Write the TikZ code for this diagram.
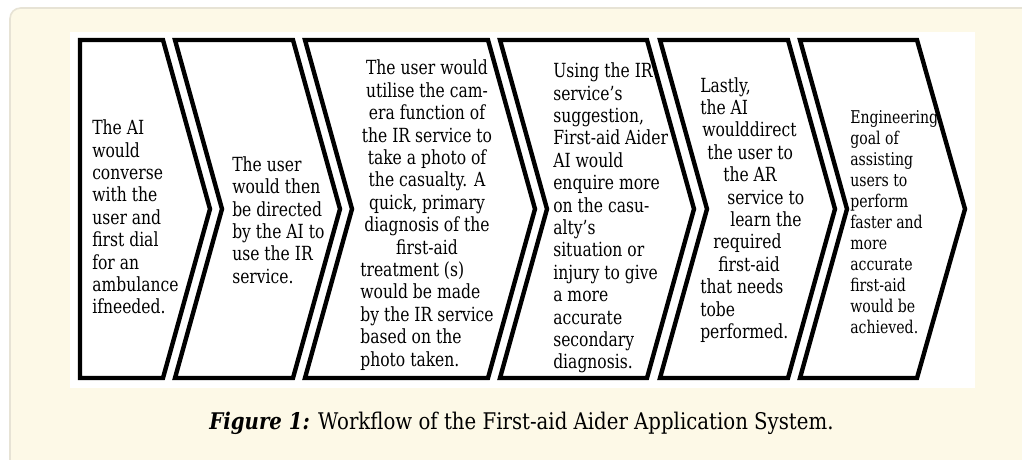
\documentclass[tikz,border=0pt]{standalone}
\usepackage{fontspec}
\setmainfont{DejaVu Serif}[FakeStretch=0.8]
\newfontfamily\capfont{DejaVu Serif}[FakeStretch=0.86]
\definecolor{cream}{HTML}{FDF9E7}
\definecolor{panelline}{HTML}{E7E3D5}
\begin{document}
\begin{tikzpicture}[x=0.75pt,y=-0.75pt,
  chevron/.style={draw=black,fill=white,line width=3.3pt,line join=miter,miter limit=10},
  boxtext/.style={inner sep=0pt,align=left,font=\fontsize{14.6}{16.8}\selectfont},
  smalltext/.style={inner sep=0pt,align=left,font=\fontsize{13.2}{15.7}\selectfont},
  captiontext/.style={inner sep=0pt,font=\capfont\fontsize{17.2}{20}\selectfont}]
\useasboundingbox (0,0) rectangle (1022,460);
\clip (0,0) rectangle (1022,460);
\fill[white] (0,0) rectangle (1022,460);
\filldraw[fill=cream,draw=panelline,line width=1.2pt,rounded corners=8pt] (10,8) rectangle (1060,500);
\fill[white] (70,32) rectangle (975,388);

% chevrons
\draw[chevron] (80,40) -- (163,40) -- (210,209) -- (163,378) -- (80,378) -- cycle;
\draw[chevron] (175,40) -- (293,40) -- (340,209) -- (293,378) -- (175,378) -- (222,209) -- cycle;
\draw[chevron] (305,40) -- (488,40) -- (535,209) -- (488,378) -- (305,378) -- (352,209) -- cycle;
\draw[chevron] (500,40) -- (647,40) -- (694,209) -- (647,378) -- (500,378) -- (547,209) -- cycle;
\draw[chevron] (660,40) -- (788,40) -- (835,209) -- (788,378) -- (660,378) -- (707,209) -- cycle;
\draw[chevron] (800,40) -- (917,40) -- (965,209) -- (917,378) -- (800,378) -- (847,209) -- cycle;

% texts
\node[boxtext,anchor=west] (t1) at (92,217) {The AI\\would\\converse\\with the\\user and\\first dial\\for an\\ambulance\\ifneeded.};
\node[boxtext,anchor=west] (t2) at (232,220) {The user\\would then\\be directed\\by the AI to\\use the IR\\service.};
\node[boxtext] (t3) at (427,216) {\begin{tabular}{@{}c@{}}The user would\\utilise the cam-\\era function of\\the IR service to\\take a photo of\\the casualty. A\\quick, primary\\diagnosis of the\\first-aid\\\multicolumn{1}{@{}l@{}}{treatment (s)}\\\multicolumn{1}{@{}l@{}}{would be made}\\\multicolumn{1}{@{}l@{}}{by the IR service}\\\multicolumn{1}{@{}l@{}}{based on the}\\\multicolumn{1}{@{}l@{}}{photo taken.}\end{tabular}};
\node[boxtext,anchor=west] (t4) at (553,218) {Using the IR\\service’s\\suggestion,\\First-aid Aider\\AI would\\enquire more\\on the casu-\\alty’s\\situation or\\injury to give\\a more\\accurate\\secondary\\diagnosis.};
\node[boxtext,anchor=west] (t5) at (700,210) {Lastly,\\the AI\\\hspace*{1.5pt}woulddirect\\\hspace*{5.25pt}the user to\\\hspace*{17.25pt}the AR\\\hspace*{20.25pt}service to\\\hspace*{22.5pt}learn the\\\hspace*{9.75pt}required\\\hspace*{13.5pt}first-aid\\that needs\\tobe\\performed.};
\node[smalltext,anchor=west] (t6) at (850,222) {Engineering\\goal of\\assisting\\users to\\perform\\faster and\\more\\accurate\\first-aid\\would be\\achieved.};

\node[captiontext,anchor=base] (cap) at (521.5,429) {\textbf{\textit{Figure 1:}} Workflow of the First-aid Aider Application System.};
\end{tikzpicture}
\end{document}
